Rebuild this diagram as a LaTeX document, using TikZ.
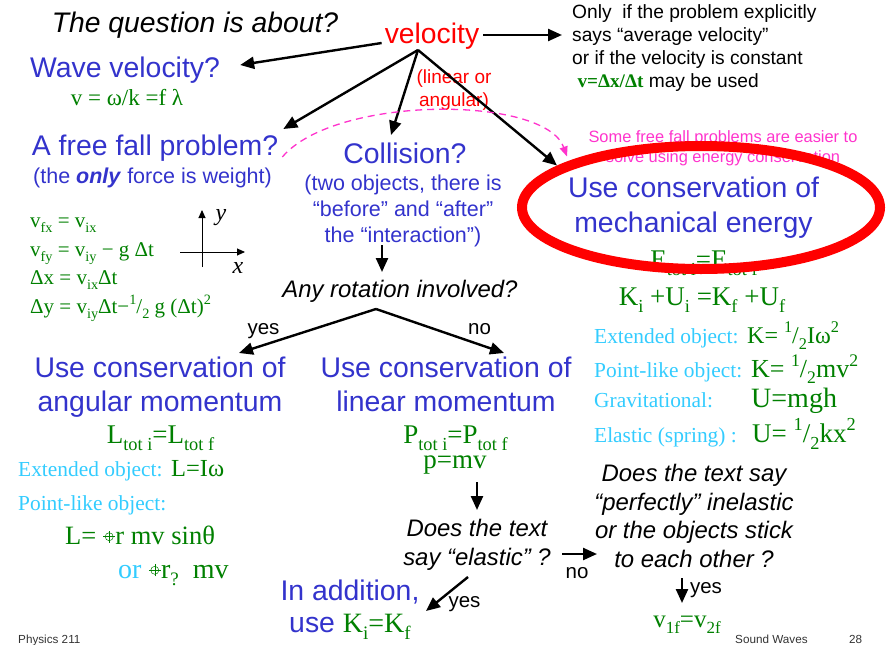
\documentclass[tikz,border=0pt]{standalone}
\usepackage{fontspec}
\setmainfont{Liberation Sans}
\newfontfamily\tms{Liberation Serif}
\usepackage{tikz}
\usetikzlibrary{positioning,arrows.meta,shapes.geometric}
\definecolor{qblue}{RGB}{51,51,204}
\definecolor{qgreen}{RGB}{0,128,0}
\definecolor{qcyan}{RGB}{51,204,255}
\definecolor{qpink}{RGB}{255,51,204}
\newcommand{\xhair}{\tikz[baseline=-0.6ex,line width=0.5pt]{\draw (0pt,0pt) circle (4pt); \draw (-6pt,0pt) -- (6pt,0pt) (0pt,-6pt) -- (0pt,6pt);}}
\newcommand{\dnx}[1]{\raisebox{-0.26em}{\scalebox{0.68}{#1}}}
\newcommand{\upx}[1]{\raisebox{0.42em}{\scalebox{0.68}{#1}}}
\newcommand{\half}{\upx{1}/\dnx{2}}

\begin{document}
\begin{tikzpicture}[
		x=1pt,y=-1pt,
		every node/.style={inner sep=1pt,align=center,anchor=base},
		headtxt/.style={font=\fontsize{28.4}{34}\selectfont,text=qblue},
		subtxt/.style={font=\fontsize{21.5}{26}\selectfont,text=qblue},
		asktxt/.style={font=\fontsize{23.9}{28.5}\selectfont\itshape},
		eqtxt/.style={font=\tms\fontsize{27}{32}\selectfont,text=qgreen},
		lbltxt/.style={font=\tms\fontsize{21.4}{26}\selectfont,text=qcyan},
		tagtxt/.style={font=\fontsize{20.5}{24}\selectfont},
		foottxt/.style={font=\fontsize{11.7}{14}\selectfont,text=black!80},
		arr/.style={line width=2.4pt,-{Triangle[length=14pt,width=12pt]}}
		]
		
		\useasboundingbox (0,0) rectangle (886,645);
		
		\node[font=\fontsize{28.3}{34}\selectfont\itshape] (quest) at (195,32) {The question is about?};
		
		\node[font=\fontsize{28.3}{34}\selectfont,text=red] (vel) at (432,43) {velocity};
		
		\node[font=\fontsize{19}{23}\selectfont,text=red] (linang) at (454,106)
		{(linear or\\angular)};
		
		\node[font=\fontsize{19.2}{22.8}\selectfont,align=left,anchor=base west] (only) at (571,87)
		{Only\ \ if the problem explicitly\\says “average velocity”\\or if the velocity is constant\\
			\ {\tms\bfseries\color{qgreen}v=Δx/Δt} may be used};
		
		\node[headtxt] (wave) at (125,77) {Wave velocity?};
		
		\node[font=\tms\fontsize{23}{25}\selectfont,text=qgreen] (waveeq) at (127,105) {v = ω/k =f λ};
		
		\node[headtxt] (free) at (155,155) {A free fall problem?};
		
		\node[subtxt] (freesub) at (152.5,183) {(the \textbf{\textit{only}} force is weight)};
		
		\node[font=\tms\fontsize{21}{28.5}\selectfont,text=qgreen,align=left,anchor=base west] (ffeq) at (29,313)
		{v\dnx{fx} = v\dnx{ix}\\
			v\dnx{fy} = v\dnx{iy} − g Δt\\
			Δx = v\dnx{ix}Δt\\
			Δy = v\dnx{iy}Δt−\half{} g (Δt)\upx{2}};
		
		\draw[line width=0.9pt,-{Triangle[length=8pt,width=7pt]}] (202,267) -- (202,210);
		\draw[line width=0.9pt,-{Triangle[length=8pt,width=7pt]}] (180,252) -- (245,252);
		\node[font=\tms\itshape\fontsize{24}{24}\selectfont] (ylab) at (221,220) {y};
		\node[font=\tms\itshape\fontsize{24}{24}\selectfont] (xlab) at (238,273) {x};
		
		\node[headtxt] (coll) at (405,163) {Collision?};
		
		\node[subtxt] (collsub) at (403,242)
		{(two objects, there is\\“before” and “after”\\the “interaction”)};
		
		\node[asktxt] (rot) at (400,297) {Any rotation involved?};
		
		\node[headtxt] (angu) at (160,411) {Use conservation of\\angular momentum};
		
		\node[headtxt] (linm) at (446,411) {Use conservation of\\linear momentum};
		
		\node[tagtxt] (yesrot) at (263.5,334) {yes};
		\node[tagtxt] (norot) at (479.5,334) {no};
		
		\node[eqtxt] (ltot) at (160.5,443) {L\dnx{tot i}=L\dnx{tot f}};
		\node[lbltxt,anchor=base west] (extl) at (17,476) {Extended object:};
		\node[eqtxt,font=\tms\fontsize{24.5}{28}\selectfont,anchor=base west] (liw) at (170,476) {L=Iω};
		\node[lbltxt,anchor=base west] (ptl) at (17,510) {Point-like object:};
		\node[eqtxt,font=\tms\fontsize{26.5}{32}\selectfont,anchor=base west] (lsin) at (64,544)
		{L= \xhair r mv sinθ};
		\node[eqtxt,font=\tms\fontsize{28}{32}\selectfont,anchor=base west] (lor) at (117,578)
		{{\color{qcyan}or} \xhair r\dnx{?}\ \ mv};
		
		\node[eqtxt] (ptot) at (455.5,443) {P\dnx{tot i}=P\dnx{tot f}};
		\node[eqtxt] (pmv) at (455,468) {p=mv};
		
		\node[asktxt] (elast) at (477,565) {Does the text\\say “elastic” ?};
		
		\node[headtxt,font=\fontsize{28.4}{32}\selectfont] (addit) at (350,632)
		{In addition,\\use {\tms\fontsize{28}{32}\selectfont\color{qgreen}K\dnx{i}=K\dnx{f}}};
		
		\node[tagtxt] (yesel) at (464.5,607) {yes};
		
		\node[asktxt] (perf) at (694,567)
		{Does the text say\\“perfectly” inelastic\\or the objects stick\\to each other ?};
		
		\node[tagtxt] (noel) at (577,578) {no};
		
		\node[eqtxt,font=\tms\fontsize{25}{30}\selectfont] (vsame) at (687,627) {v\dnx{1f}=v\dnx{2f}};
		
		\node[tagtxt] (yesperf) at (706,593) {yes};
		
		\node[font=\fontsize{16.4}{20}\selectfont,text=qpink] (pinknote) at (723,162)
		{Some free fall problems are easier to\\solve using energy conservation};
		
		\node[headtxt,font=\fontsize{28.4}{35}\selectfont] (mech) at (693.5,232) {Use conservation of\\mechanical energy};
		
		\node[eqtxt] (etot) at (704,268) {E\dnx{tot i}=E\dnx{tot f}};
		\node[eqtxt] (kueq) at (702,305) {K\dnx{i} +U\dnx{i} =K\dnx{f} +U\dnx{f}};
		
		\node[draw=red,line width=10pt,ellipse,anchor=center,inner sep=0pt,
		minimum width=358pt,minimum height=123pt] (ell) at (701,207.5) {};
		
		\node[lbltxt,anchor=base west] (extk) at (593,343) {Extended object:};
		\node[lbltxt,anchor=base west] (ptk) at (593,377) {Point-like object:};
		\node[lbltxt,anchor=base west] (grav) at (593,407) {Gravitational:};
		\node[lbltxt,anchor=base west] (elas) at (593,442) {Elastic (spring) :};
		
		\node[eqtxt,font=\tms\fontsize{24}{28}\selectfont,anchor=base west] (kext) at (746,343) {K= \half Iω\upx{2}};
		\node[eqtxt,font=\tms\fontsize{26}{30}\selectfont,anchor=base west] (kpt) at (750,377) {K= \half mv\upx{2}};
		\node[eqtxt,font=\tms\fontsize{28}{32}\selectfont,anchor=base west] (ugrav) at (750,407) {U=mgh};
		\node[eqtxt,font=\tms\fontsize{27}{32}\selectfont,anchor=base west] (uspr) at (751,442) {U= \half kx\upx{2}};
		
		\node[foottxt,anchor=base west] (course) at (17,643) {Physics 211};
		\node[foottxt,anchor=base west] (topic) at (734,643) {Sound Waves};
		\node[foottxt,anchor=base west] (pagenum) at (848,643) {28};
		
		\coordinate (vbr) at ([shift={(-14,7)}]vel.base);
		\coordinate (rbr) at ([shift={(-24,12)}]rot.base);
		
		\draw[arr] ([shift={(-2,0)}]vel.base west) -- ([shift={(19,-12)}]wave.base east);
		\draw[arr] (vbr) -- ([shift={(4,-26)}]free.base east);
		\draw[arr] (vbr) -- ([shift={(-14,-28)}]coll.base);
		\draw[arr] (vbr) -- ([shift={(-144,-42)}]ell.center);
		\draw[arr] ([shift={(3,-8)}]vel.base east) -- ([shift={(-9,-52)}]only.base west);
		\draw[qpink,line width=1.3pt,dash pattern=on 7pt off 5pt,-{Triangle[length=10pt,width=8pt]}]
		([shift={(3,2)}]free.base east) .. controls (335,95) and (545,95) .. ([shift={(-134,-51)}]ell.center);
		\draw[arr] ([shift={(-21,3)}]collsub.base) -- ([shift={(-18,-25)}]rot.base);
		\draw[arr] (rbr) -- ([shift={(79,-58)}]angu.base);
		\draw[arr] (rbr) -- ([shift={(58,-58)}]linm.base);
		\draw[arr] ([shift={(22,14)}]pmv.base) -- ([shift={(0,-55)}]elast.base);
		\draw[arr] ([shift={(85,-11)}]elast.base) -- ([shift={(-97,-13)}]perf.base);
		\draw[arr] ([shift={(-9,12)}]elast.base) -- ([shift={(76,-21)}]addit.base);
		\draw[arr] ([shift={(-12,11)}]perf.base) -- ([shift={(-5,-24)}]vsame.base);
		
	\end{tikzpicture}
\end{document}
